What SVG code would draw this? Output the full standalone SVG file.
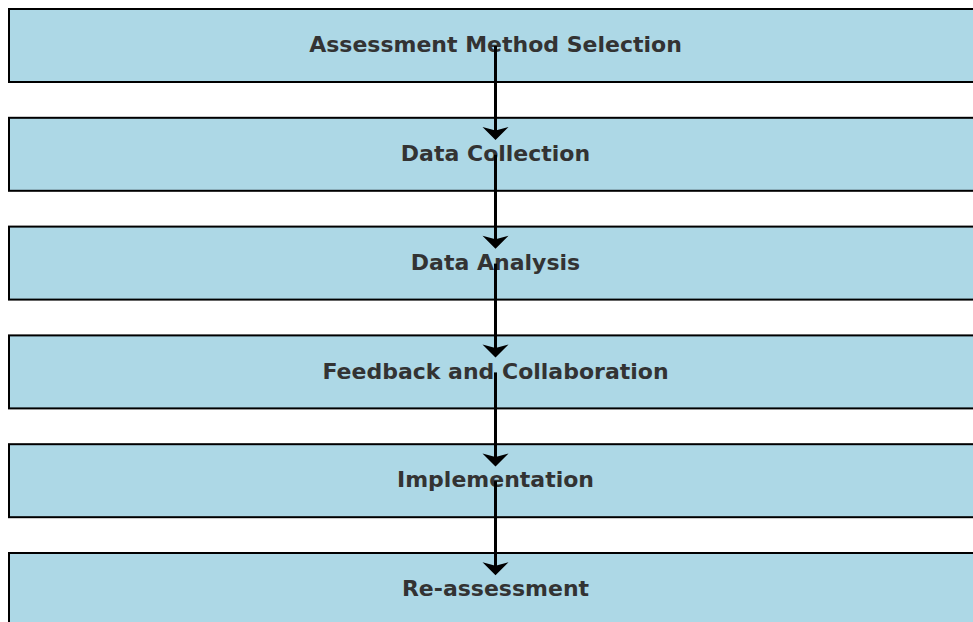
<svg xmlns="http://www.w3.org/2000/svg" width="973" height="622" viewBox="0 0 973 622">
<style>
.box{fill:#ADD8E6;stroke:#000;stroke-width:2}
.lbl{font-family:"DejaVu Sans",sans-serif;font-weight:bold;font-size:22px;fill:#333333;text-anchor:middle}
.con{stroke:#000;stroke-width:3;fill:none}
.head{fill:#000;stroke:none}
</style>
<rect width="973" height="622" fill="#ffffff"/>
<g id="n1"><rect class="box" x="9" y="9" width="990" height="73"/><text class="lbl" x="495.5" y="52">Assessment Method Selection</text></g>
<g id="n2"><rect class="box" x="9" y="117.8" width="990" height="73"/><text class="lbl" x="495.5" y="161">Data Collection</text></g>
<g id="n3"><rect class="box" x="9" y="226.6" width="990" height="73"/><text class="lbl" x="495.5" y="269.8">Data Analysis</text></g>
<g id="n4"><rect class="box" x="9" y="335.4" width="990" height="73"/><text class="lbl" x="495.5" y="378.6">Feedback and Collaboration</text></g>
<g id="n5"><rect class="box" x="9" y="444.2" width="990" height="73"/><text class="lbl" x="495.5" y="487.4">Implementation</text></g>
<g id="n6"><rect class="box" x="9" y="553" width="990" height="73"/><text class="lbl" x="495.5" y="596.2">Re-assessment</text></g>
<g id="connectors">
<defs><path id="ah" class="head" d="M-13,-13 L0,0 L13,-13 L0,-9.5 Z"/></defs>
<line class="con" x1="495.5" y1="46" x2="495.5" y2="134"/><use href="#ah" x="495.5" y="140"/>
<line class="con" x1="495.5" y1="154.8" x2="495.5" y2="242.8"/><use href="#ah" x="495.5" y="248.8"/>
<line class="con" x1="495.5" y1="263.6" x2="495.5" y2="351.6"/><use href="#ah" x="495.5" y="357.6"/>
<line class="con" x1="495.5" y1="372.4" x2="495.5" y2="460.4"/><use href="#ah" x="495.5" y="466.4"/>
<line class="con" x1="495.5" y1="481.2" x2="495.5" y2="569.2"/><use href="#ah" x="495.5" y="575.2"/>
</g>
</svg>
